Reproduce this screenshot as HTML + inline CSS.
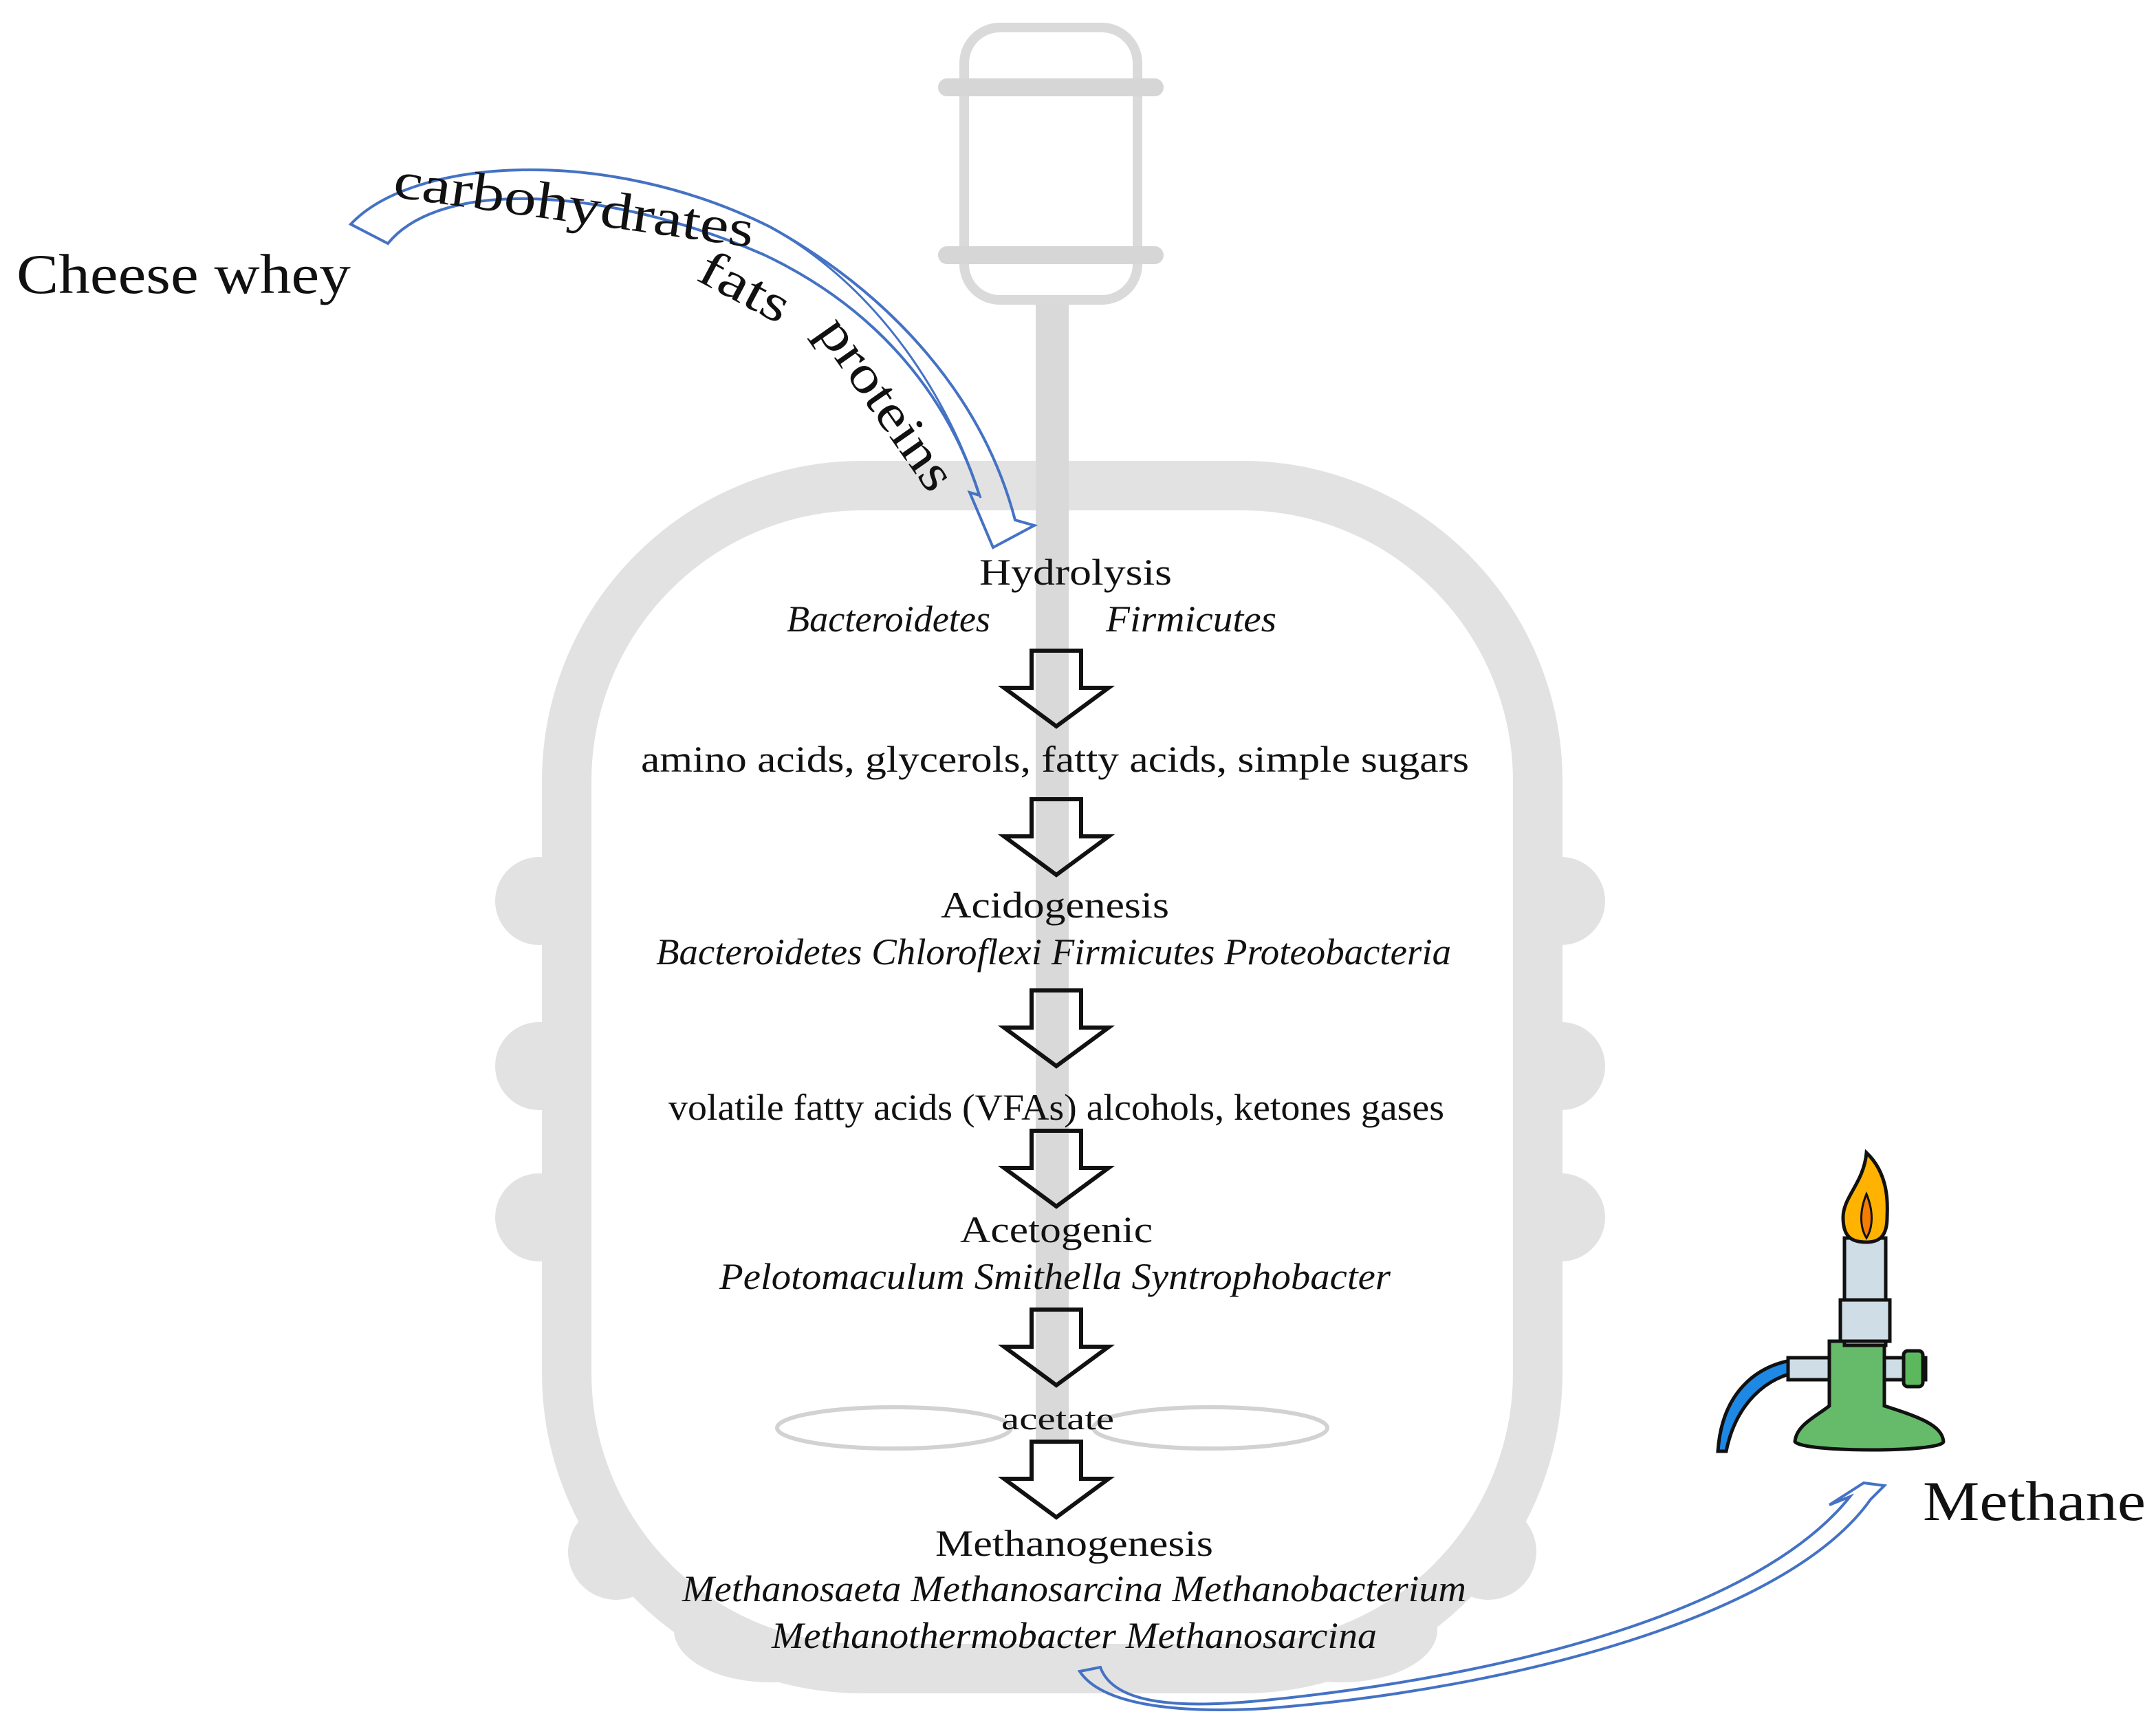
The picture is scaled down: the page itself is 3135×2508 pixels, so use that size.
<!DOCTYPE html>
<html><head><meta charset="utf-8"><style>
html,body{margin:0;padding:0;background:#fff}
svg{display:block}
text{font-family:"Liberation Serif",serif;fill:#111}
.i{font-style:italic}
</style></head><body>
<svg width="3135" height="2508" viewBox="0 0 1567.5 1254" xmlns="http://www.w3.org/2000/svg">
<g fill="#e2e2e2">
 <circle cx="392" cy="655" r="32"/><circle cx="392" cy="775" r="32"/><circle cx="392" cy="885" r="32"/>
 <circle cx="1135" cy="655" r="32"/><circle cx="1135" cy="775" r="32"/><circle cx="1135" cy="885" r="32"/>
 <circle cx="448" cy="1128" r="35"/><circle cx="1082" cy="1128" r="35"/>
 <ellipse cx="560" cy="1185" rx="70" ry="38"/><ellipse cx="975" cy="1185" rx="70" ry="38"/>
</g>
<rect x="412" y="353" width="706" height="860" rx="215" fill="#fff" stroke="#e2e2e2" stroke-width="36"/>
<rect x="701" y="20" width="126" height="198" rx="26" fill="#fff" stroke="#dadada" stroke-width="7"/>
<rect x="682" y="57" width="164" height="13" rx="6.5" fill="#d6d6d6"/>
<rect x="682" y="179" width="164" height="13" rx="6.5" fill="#d6d6d6"/>
<rect x="753" y="220" width="24" height="830" fill="#d9d9d9"/>
<ellipse cx="650" cy="1038" rx="85" ry="15" fill="none" stroke="#d2d2d2" stroke-width="3"/>
<ellipse cx="880" cy="1038" rx="85" ry="15" fill="none" stroke="#d2d2d2" stroke-width="3"/>
<g fill="none" stroke="#111" stroke-width="3" stroke-linejoin="miter">
 <path d="M750,473 H786 V500 H806 L768,528 L730,500 H750 Z"/>
 <path d="M750,581 H786 V608 H806 L768,636 L730,608 H750 Z"/>
 <path d="M750,720 H786 V747 H806 L768,775 L730,747 H750 Z"/>
 <path d="M750,822 H786 V849 H806 L768,877 L730,849 H750 Z"/>
 <path d="M750,952 H786 V979 H806 L768,1007 L730,979 H750 Z"/>
 <path d="M750,1048 H786 V1075 H806 L768,1103 L730,1075 H750 Z"/>
</g>
<g font-size="27" lengthAdjust="spacingAndGlyphs">
 <text x="712" y="425" textLength="140" lengthAdjust="spacingAndGlyphs">Hydrolysis</text>
 <text class="i" x="572" y="459" textLength="148" lengthAdjust="spacingAndGlyphs">Bacteroidetes</text>
 <text class="i" x="804" y="459" textLength="124" lengthAdjust="spacingAndGlyphs">Firmicutes</text>
 <text x="466" y="561" textLength="602" lengthAdjust="spacingAndGlyphs">amino acids, glycerols, fatty acids, simple sugars</text>
 <text x="684" y="667" textLength="166" lengthAdjust="spacingAndGlyphs">Acidogenesis</text>
 <text class="i" x="477" y="701" textLength="578" lengthAdjust="spacingAndGlyphs">Bacteroidetes Chloroflexi Firmicutes Proteobacteria</text>
 <text x="486" y="814" textLength="564" lengthAdjust="spacingAndGlyphs">volatile  fatty acids (VFAs) alcohols, ketones gases</text>
 <text x="698" y="903" textLength="140" lengthAdjust="spacingAndGlyphs">Acetogenic</text>
 <text class="i" x="523" y="937" textLength="488" lengthAdjust="spacingAndGlyphs">Pelotomaculum Smithella Syntrophobacter</text>
 <text x="728" y="1039" font-size="23" textLength="82" lengthAdjust="spacingAndGlyphs">acetate</text>
 <text x="680" y="1131" textLength="202" lengthAdjust="spacingAndGlyphs">Methanogenesis</text>
 <text class="i" x="496" y="1164" textLength="570" lengthAdjust="spacingAndGlyphs">Methanosaeta Methanosarcina Methanobacterium</text>
 <text class="i" x="561" y="1198" textLength="440" lengthAdjust="spacingAndGlyphs">Methanothermobacter Methanosarcina</text>
</g>
<text x="12" y="213" font-size="41" textLength="243" lengthAdjust="spacingAndGlyphs">Cheese whey</text>
<text x="1398" y="1105" font-size="41" textLength="162" lengthAdjust="spacingAndGlyphs">Methane</text>
<path d="M255,163 C300,115 440,105 560,165 C650,215 715,290 738,378 L752,382 L722,398 L705,358 L712,360 C690,290 640,225 555,185 C440,135 320,130 282,177 Z" fill="none" stroke="#4472c4" stroke-width="2"/>
<path d="M560,165 C640,210 690,290 713,362" fill="none" stroke="#4472c4" stroke-width="1.5"/>
<text x="285" y="143" font-size="38" transform="rotate(8 285 143)" textLength="264" lengthAdjust="spacingAndGlyphs">carbohydrates</text>
<text x="505" y="203" font-size="38" transform="rotate(28 505 203)" textLength="70" lengthAdjust="spacingAndGlyphs">fats</text>
<text x="593" y="241" font-size="38" transform="rotate(55 593 241)" textLength="145" lengthAdjust="spacingAndGlyphs">proteins</text>
<path d="M785,1215 L800,1212 C810,1240 860,1242 920,1236 C1100,1218 1280,1170 1345,1088 L1330,1094 L1355,1078 L1370,1080 L1360,1090 C1300,1175 1100,1228 920,1242 C850,1246 800,1238 785,1215 Z" fill="none" stroke="#4472c4" stroke-width="2"/>
<g stroke="#111" stroke-width="2.5">
 <path d="M1249,1055 C1252,1010 1280,990 1310,988 L1310,997 C1285,1000 1262,1020 1255,1055 Z" fill="#1e88e5"/>
 <rect x="1300" y="987" width="100" height="16" fill="#cfdde6"/>
 <rect x="1384" y="982" width="14" height="26" rx="3" fill="#5cb85c"/>
 <path d="M1330,975 H1370 V1022 C1395,1030 1412,1036 1413,1048 C1412,1056 1310,1056 1305,1048 C1306,1036 1320,1030 1330,1022 Z" fill="#66bb6a"/>
 <rect x="1341" y="900" width="30" height="78" fill="#cfdde6"/>
 <rect x="1338" y="945" width="36" height="30" fill="#cfdde6"/>
 <path d="M1357,838 C1375,855 1372,880 1372,885 C1372,900 1365,903 1357,903 C1347,903 1340,900 1340,885 C1340,870 1355,860 1357,838 Z" fill="#ffb300"/>
 <path d="M1357,868 C1362,880 1362,892 1357,900 C1352,892 1352,880 1357,868 Z" fill="#f57c00" stroke-width="1.5"/>
</g>
</svg>
</body></html>
